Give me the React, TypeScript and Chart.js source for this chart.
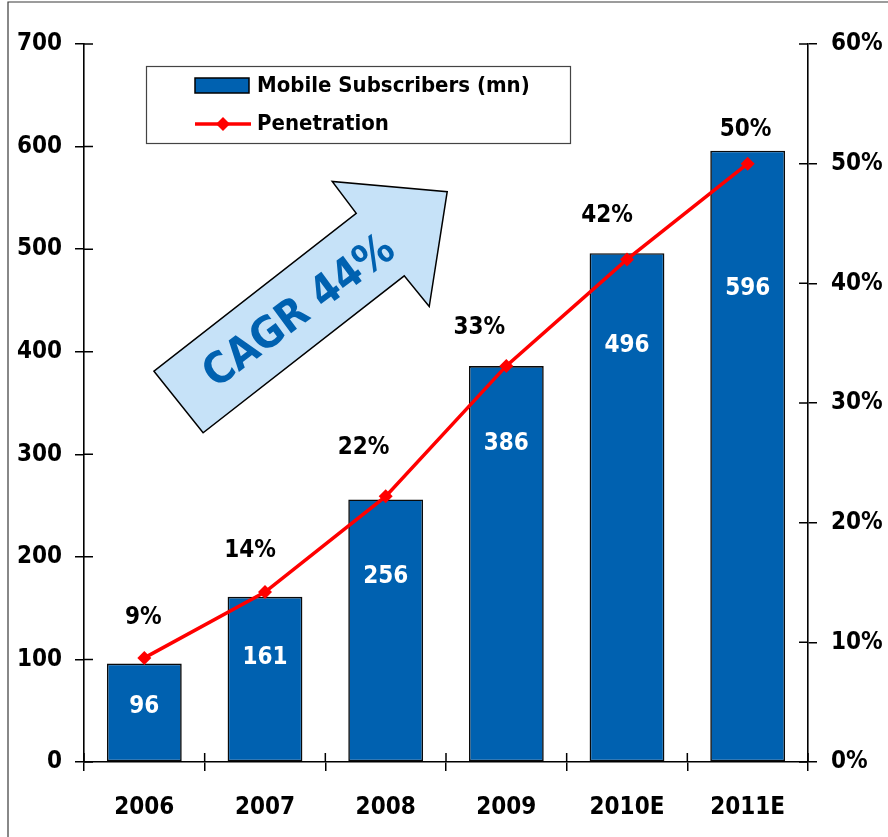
import React, { useEffect, useRef } from 'react';
import { Chart, registerables } from 'chart.js';

Chart.register(...registerables);

// ---- data ----
const years = ['2006', '2007', '2008', '2009', '2010E', '2011E'];
const subscribers = [96, 161, 256, 386, 496, 596];
const penetration = [8.7, 14.2, 22.2, 33.1, 42.0, 50.0];
const subscriberLabel = 'Mobile Subscribers (mn)';
const penetrationLabel = 'Penetration';
const cagrText = 'CAGR 44%';

// ---- layout / style constants ----
const FONT_FAMILY = "'DejaVu Sans Condensed', 'DejaVu Sans', sans-serif";
const BAR_COLOR = '#0061B0';
const LINE_COLOR = '#FF0000';
const ARROW_FILL = '#C6E2F8';
// offsets of penetration labels from their points (px)
const penLabelOffsets = [
  [-1, -41], [-15, -42], [-22, -50], [-27, -39], [-20, -45], [-2, -35],
];
// distance of the value label below the bar top (px)
const valueLabelDrop = [43, 61, 77, 78, 93, 138];
// arrow outline in (category index, left-axis value) units
const arrowShape = [
  [0.08, 381], [0.487, 321], [2.154, 474], [2.361, 444],
  [2.51, 556], [1.557, 566], [1.756, 535],
];
const arrowTextAt = [1.29, 438];

const decorPlugin = {
  id: 'decor',
  beforeDraw(chart: any) {
    const { ctx } = chart;
    ctx.save();
    ctx.fillStyle = '#ffffff';
    ctx.fillRect(0, 0, chart.width, chart.height);
    ctx.strokeStyle = '#3a3a3a';
    ctx.lineWidth = 1.2;
    ctx.beginPath();
    ctx.moveTo(8, chart.height);
    ctx.lineTo(8, 2);
    ctx.lineTo(chart.width, 2);
    ctx.stroke();
    ctx.restore();
  },
  afterDatasetsDraw(chart: any) {
    const { ctx, chartArea } = chart;
    const x = chart.scales.x;
    const y = chart.scales.y;
    const y1 = chart.scales.y1;
    ctx.save();

    // inner halves of the cross ticks
    ctx.strokeStyle = '#000';
    ctx.lineWidth = 1.5;
    ctx.beginPath();
    for (let v = 0; v <= 700; v += 100) {
      const py = y.getPixelForValue(v);
      ctx.moveTo(chartArea.left, py);
      ctx.lineTo(chartArea.left + 9, py);
    }
    for (let v = 0; v <= 60; v += 10) {
      const py = y1.getPixelForValue(v);
      ctx.moveTo(chartArea.right - 9, py);
      ctx.lineTo(chartArea.right, py);
    }
    for (let i = 0; i <= years.length; i++) {
      const px = x.getPixelForValue(i - 0.5);
      ctx.moveTo(px, chartArea.bottom);
      ctx.lineTo(px, chartArea.bottom - 9);
    }
    ctx.stroke();

    // arrow
    ctx.beginPath();
    arrowShape.forEach(([a, b], i) => {
      const px = x.getPixelForValue(a);
      const py = y.getPixelForValue(b);
      if (i === 0) ctx.moveTo(px, py);
      else ctx.lineTo(px, py);
    });
    ctx.closePath();
    ctx.fillStyle = ARROW_FILL;
    ctx.fill();
    ctx.strokeStyle = '#000';
    ctx.lineWidth = 1.5;
    ctx.stroke();
    ctx.save();
    ctx.translate(x.getPixelForValue(arrowTextAt[0]), y.getPixelForValue(arrowTextAt[1]));
    ctx.rotate((-36.5 * Math.PI) / 180);
    ctx.fillStyle = BAR_COLOR;
    ctx.font = `bold 43px ${FONT_FAMILY}`;
    ctx.textAlign = 'center';
    ctx.textBaseline = 'middle';
    ctx.fillText(cagrText, 0, 0);
    ctx.restore();

    // value labels inside bars
    const barMeta = chart.getDatasetMeta(1);
    ctx.font = `bold 24px ${FONT_FAMILY}`;
    ctx.textAlign = 'center';
    ctx.textBaseline = 'middle';
    ctx.fillStyle = '#ffffff';
    barMeta.data.forEach((el: any, i: number) => {
      ctx.fillText(String(subscribers[i]), el.x, el.y + valueLabelDrop[i]);
    });

    // penetration labels
    const lineMeta = chart.getDatasetMeta(0);
    ctx.fillStyle = '#000000';
    lineMeta.data.forEach((el: any, i: number) => {
      const [dx, dy] = penLabelOffsets[i];
      ctx.fillText(`${Math.round(penetration[i])}%`, el.x + dx, el.y + dy + 1);
    });

    // legend
    const lx = chartArea.left + 62;
    const ly = chartArea.top + 22;
    ctx.fillStyle = '#ffffff';
    ctx.fillRect(lx, ly, 424, 77);
    ctx.strokeStyle = '#444';
    ctx.lineWidth = 1.2;
    ctx.strokeRect(lx + 0.5, ly + 0.5, 424, 77);
    // bar swatch
    ctx.fillStyle = BAR_COLOR;
    ctx.fillRect(lx + 49, ly + 12, 54, 15);
    ctx.strokeStyle = '#000';
    ctx.lineWidth = 1.5;
    ctx.strokeRect(lx + 49, ly + 12, 54, 15);
    // line swatch
    ctx.strokeStyle = LINE_COLOR;
    ctx.lineWidth = 3.5;
    ctx.beginPath();
    ctx.moveTo(lx + 49, ly + 58);
    ctx.lineTo(lx + 105, ly + 58);
    ctx.stroke();
    ctx.fillStyle = LINE_COLOR;
    ctx.beginPath();
    const cx = lx + 77, cy = ly + 58, r = 7;
    ctx.moveTo(cx, cy - r);
    ctx.lineTo(cx + r, cy);
    ctx.lineTo(cx, cy + r);
    ctx.lineTo(cx - r, cy);
    ctx.closePath();
    ctx.fill();
    ctx.fillStyle = '#000';
    ctx.font = `bold 22px ${FONT_FAMILY}`;
    ctx.textAlign = 'left';
    ctx.textBaseline = 'middle';
    ctx.fillText(chart.data.datasets[1].label, lx + 111, ly + 20);
    ctx.fillText(chart.data.datasets[0].label, lx + 111, ly + 58);

    ctx.restore();
  },
};

export default function App() {
  const ref = useRef<HTMLCanvasElement | null>(null);

  useEffect(() => {
    if (!ref.current) return;
    const tickFont = { family: FONT_FAMILY, size: 24, weight: 'bold' as const };
    const chart = new Chart(ref.current, {
      type: 'bar',
      data: {
        labels: years,
        datasets: [
          {
            type: 'line' as const,
            label: penetrationLabel,
            data: penetration,
            yAxisID: 'y1',
            borderColor: LINE_COLOR,
            backgroundColor: LINE_COLOR,
            borderWidth: 3.5,
            pointStyle: 'rectRot',
            pointRadius: 7,
            pointBorderWidth: 0,
            pointBackgroundColor: LINE_COLOR,
            tension: 0,
            order: 0,
          },
          {
            type: 'bar' as const,
            label: subscriberLabel,
            data: subscribers,
            yAxisID: 'y',
            backgroundColor: BAR_COLOR,
            borderColor: '#0a0a0a',
            borderWidth: 1.6,
            borderSkipped: false,
            categoryPercentage: 1,
            barPercentage: 0.62,
            order: 1,
          },
        ],
      } as any,
      options: {
        responsive: false,
        animation: false,
        devicePixelRatio: 1,
        layout: { padding: { top: 44, left: 0, right: 0, bottom: 0 } },
        plugins: {
          legend: { display: false },
          tooltip: { enabled: false },
        },
        scales: {
          x: {
            offset: true,
            grid: {
              offset: true,
              drawOnChartArea: false,
              drawTicks: true,
              tickLength: 9,
              color: '#000',
              lineWidth: 1.5,
            },
            border: { display: true, color: '#000', width: 1.6 },
            ticks: { color: '#000', font: tickFont, padding: 22, maxRotation: 0 },
            afterFit: (s: any) => { s.height = 75; },
          },
          y: {
            position: 'left',
            min: 0,
            max: 700,
            ticks: { stepSize: 100, color: '#000', font: tickFont, padding: 13 },
            grid: {
              drawOnChartArea: false,
              drawTicks: true,
              tickLength: 9,
              color: '#000',
              lineWidth: 1.5,
            },
            border: { display: true, color: '#000', width: 1.6 },
            afterFit: (s: any) => { s.width = 84; },
          },
          y1: {
            position: 'right',
            min: 0,
            max: 60,
            ticks: {
              stepSize: 10,
              color: '#000',
              font: tickFont,
              padding: 14,
              callback: (v: any) => `${v}%`,
            },
            grid: {
              drawOnChartArea: false,
              drawTicks: true,
              tickLength: 9,
              color: '#000',
              lineWidth: 1.5,
            },
            border: { display: true, color: '#000', width: 1.6 },
            afterFit: (s: any) => { s.width = 80; },
          },
        },
      } as any,
      plugins: [decorPlugin],
    });
    return () => chart.destroy();
  }, []);

  return (
    <div style={{ position: 'absolute', left: 0, top: 0, width: 888, height: 837 }}>
      <canvas ref={ref} width={888} height={837} style={{ display: 'block' }} />
    </div>
  );
}
